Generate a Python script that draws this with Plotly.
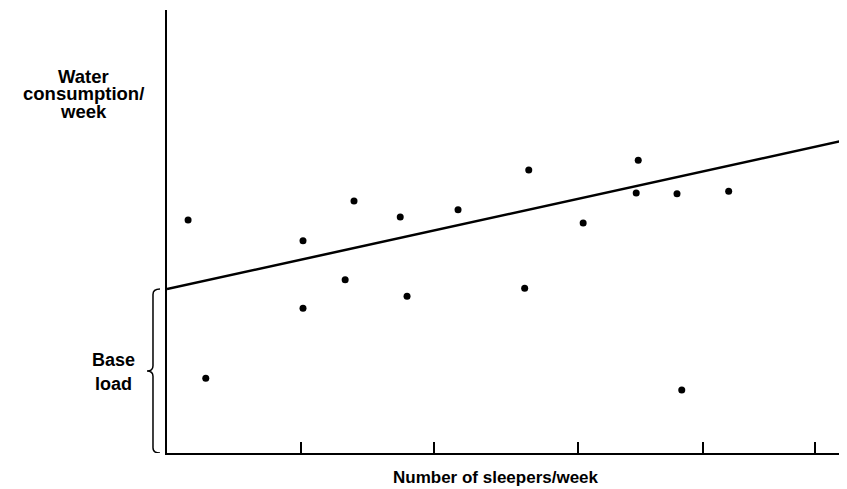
import plotly.graph_objects as go

# Data (arbitrary units)
sleepers = [0.31, 0.57, 2.00, 2.00, 2.62, 2.75, 3.43, 3.53, 4.28, 5.26, 5.32, 6.12, 6.90, 6.93, 7.50, 7.57, 8.26]
water = [5.26, 1.69, 4.79, 3.27, 3.91, 5.69, 5.33, 3.54, 5.49, 3.72, 6.39, 5.19, 5.87, 6.61, 5.85, 1.42, 5.91]
base_load = 3.70          # intercept of the fitted line
slope = 0.337             # slope of the fitted line
x_range = [0, 10]
y_range = [0, 10]
x_ticks = [1.97, 3.93, 6.04, 7.88, 9.53]

FONT = "Liberation Sans"

fig = go.Figure()
fig.add_trace(go.Scatter(
    x=x_range, y=[base_load + slope * v for v in x_range],
    mode="lines", line=dict(color="black", width=2.5),
    hoverinfo="skip", showlegend=False, cliponaxis=False))
fig.add_trace(go.Scatter(
    x=sleepers, y=water, mode="markers",
    marker=dict(color="black", size=7), showlegend=False))

# brace for base load (x in paper coords, y in data coords)
bx0, bx1, bx2 = -0.0103, -0.0206, -0.0294
r = 0.12
mid = base_load / 2
path = (f"M {bx0},{base_load} Q {bx1},{base_load} {bx1},{base_load - r} "
        f"L {bx1},{mid + r} Q {bx1},{mid} {bx2},{mid} "
        f"Q {bx1},{mid} {bx1},{mid - r} "
        f"L {bx1},{r} Q {bx1},0 {bx0},0")
fig.add_shape(type="path", path=path, xref="paper", yref="y",
              line=dict(color="black", width=1.5))

def ann(text, x, y, size):
    fig.add_annotation(text=f"<b>{text}</b>", x=x, y=y, xref="paper", yref="paper",
                       xanchor="center", yanchor="middle", showarrow=False,
                       font=dict(family=FONT, size=size, color="black"))

ann("Water", -0.1235, 0.8488, 18.5)
ann("consumption/", -0.1235, 0.8104, 18.5)
ann("week", -0.1235, 0.772, 18.5)
ann("Base", -0.0787, 0.2099, 18)
ann("load", -0.0787, 0.1558, 18)
ann("Number of sleepers/week", 0.4838, -0.0542, 17)

# page body has an 8px margin: shrink the figure so the plot lands where the reference has it
fig.update_layout(
    width=839, height=481,
    margin=dict(l=159, r=0, t=2, b=36),
    plot_bgcolor="white", paper_bgcolor="white",
    xaxis=dict(range=x_range, showgrid=False, zeroline=False, showline=True,
               linecolor="black", linewidth=2, tickvals=x_ticks, ticktext=[""] * len(x_ticks),
               ticks="inside", ticklen=11, tickwidth=1.5, tickcolor="black"),
    yaxis=dict(range=y_range, showgrid=False, zeroline=False, showline=True,
               linecolor="black", linewidth=2, showticklabels=False, ticks=""),
)

fig.write_html("out.html")
